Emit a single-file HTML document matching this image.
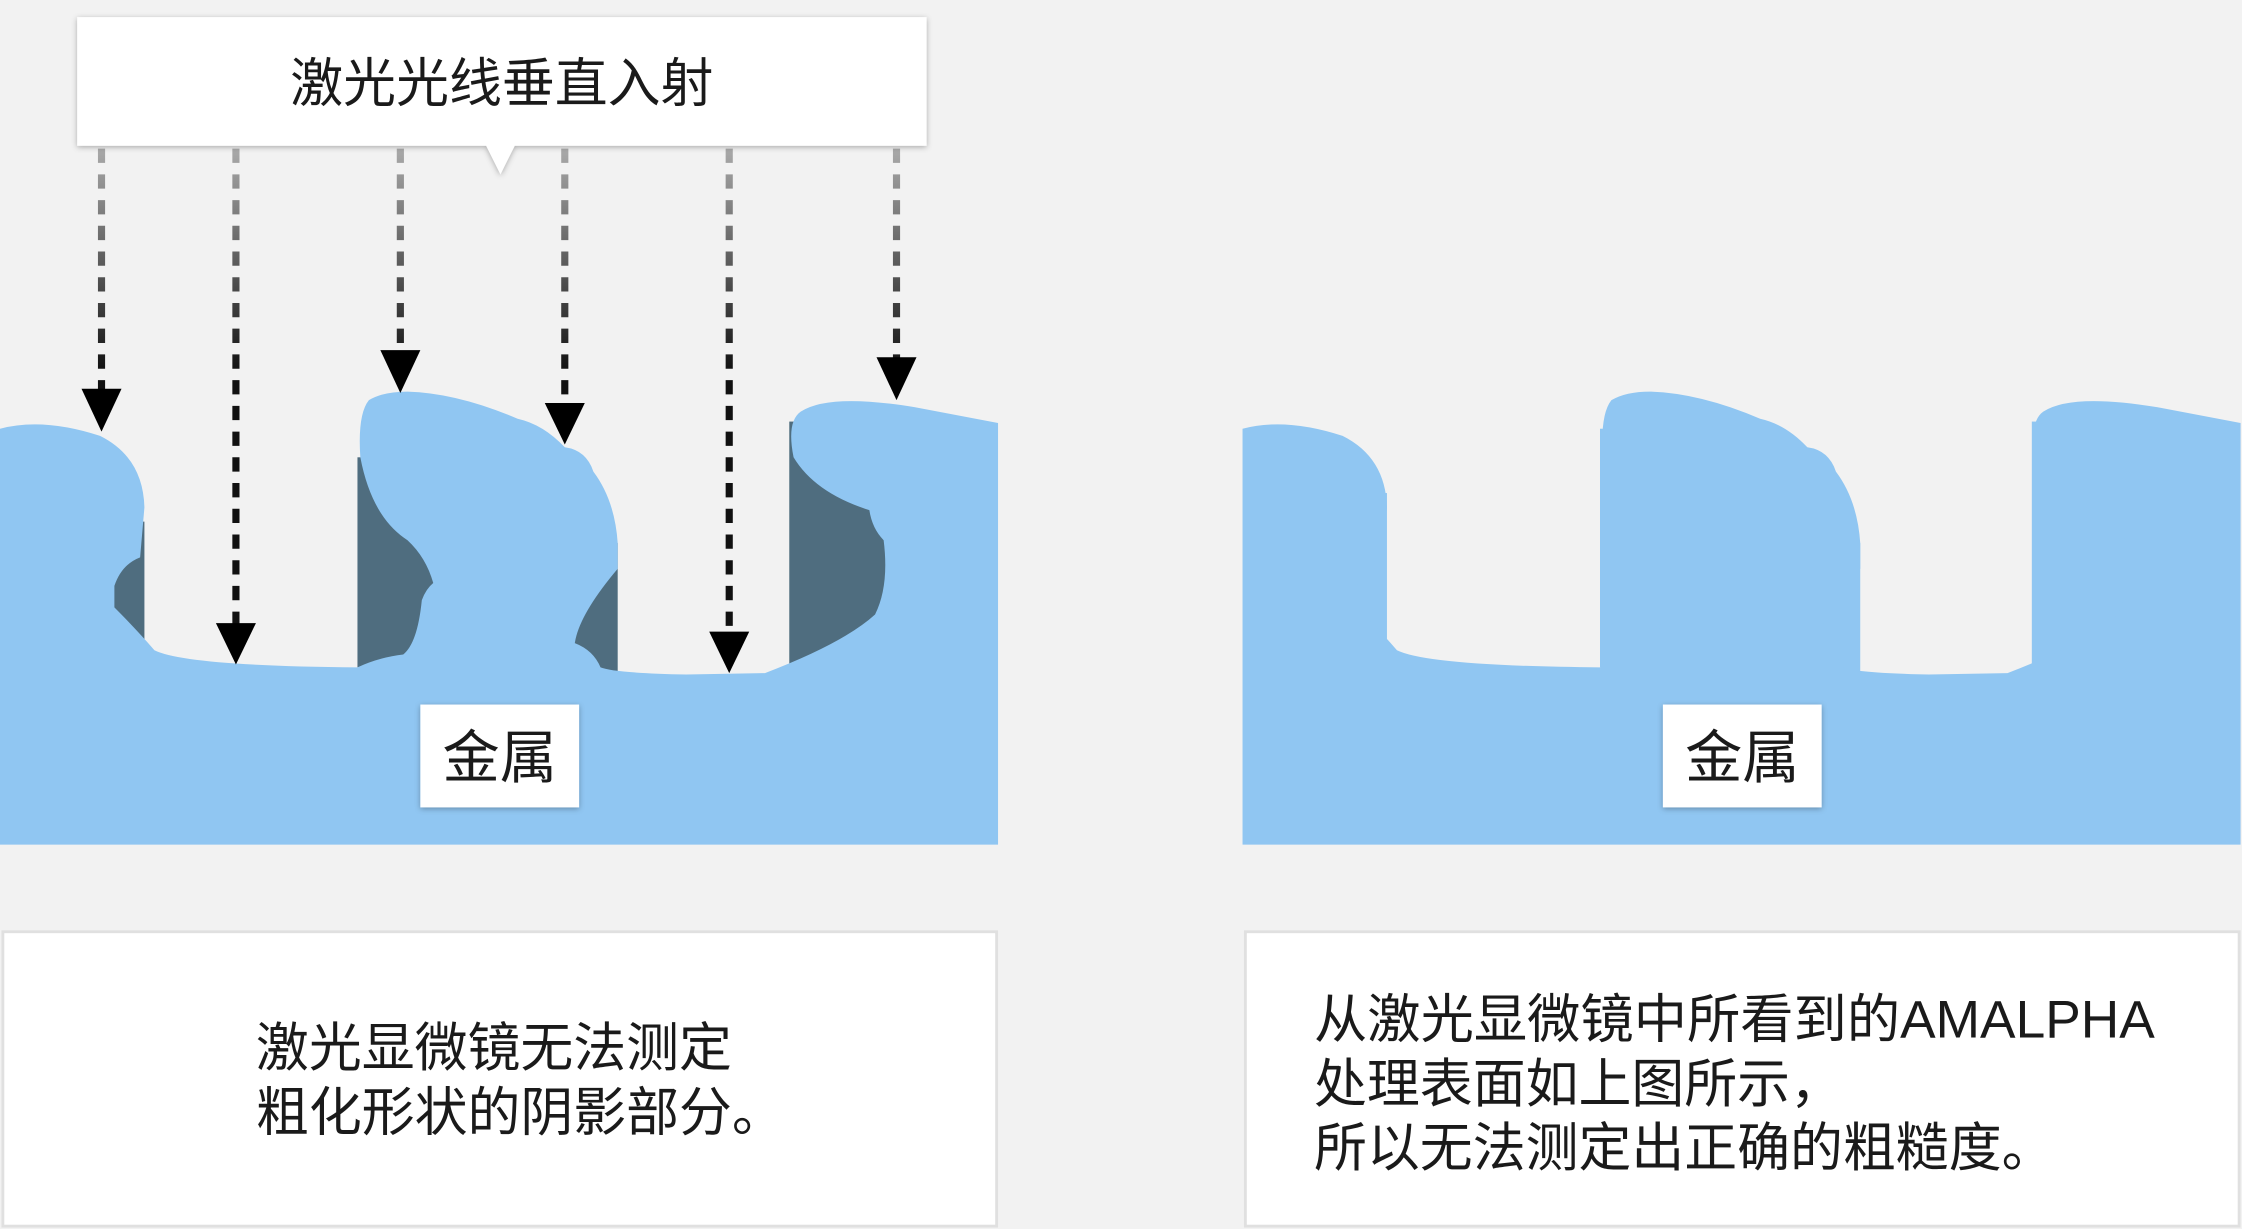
<!DOCTYPE html>
<html><head><meta charset="utf-8"><style>
html,body{margin:0;padding:0;background:#f2f2f2;width:2242px;height:1229px;overflow:hidden}
svg{display:block}
text{font-family:"Liberation Sans","Noto Sans CJK SC",sans-serif;fill:#1a1a1a}
</style></head><body>
<svg width="2242" height="1229" viewBox="0 0 1568 860" preserveAspectRatio="none">
<defs>
<linearGradient id="g" gradientUnits="userSpaceOnUse" x1="0" y1="104" x2="0" y2="260"><stop offset="0" stop-color="#aaa"/><stop offset="1" stop-color="#111"/></linearGradient>
<filter id="sh" x="-10%" y="-10%" width="120%" height="130%"><feDropShadow dx="0" dy="1" stdDeviation="2" flood-opacity="0.3"/></filter>
<path id="metal" d="M0,300 Q30,292 70,305 Q100,320 101,355 L98,390 Q85,395 80,410 L80,425 Q95,440 108,455 Q130,466 250,467 Q265,460 282,458 Q292,450 295,420 Q298,412 303,408 Q298,390 285,378 Q260,362 252,320 Q250,290 258,280 Q268,274 285,274 Q320,275 362,293 Q380,297 395,313 Q410,315 415,330 Q430,350 432,380 L432,398 Q405,430 402,450 Q415,455 420,467 Q430,471 480,472 L535,471 Q590,450 612,430 Q622,410 618,378 Q610,370 608,357 Q570,345 555,320 Q550,295 560,288 Q580,275 640,285 L698,296 L698,591 L0,591 Z"/>
</defs>
<g fill="#4f6d7f">
<rect x="78" y="365" width="23" height="85"/><rect x="250" y="320" width="55" height="147"/><rect x="400" y="380" width="32" height="90"/><rect x="552" y="295" width="68" height="170"/>
</g>
<use href="#metal" fill="#90c6f2"/>
<g transform="translate(869,0)" fill="#90c6f2">
<rect x="78" y="345" width="23" height="105"/><rect x="250" y="300" width="55" height="167"/><rect x="400" y="380" width="32" height="90"/><rect x="552" y="295" width="68" height="170"/>
<use href="#metal"/>
</g>
<g stroke="url(#g)" stroke-width="5" stroke-dasharray="10,8" fill="none">
<line x1="71" y1="104" x2="71" y2="280"/><line x1="165" y1="104" x2="165" y2="440"/><line x1="280" y1="104" x2="280" y2="252"/><line x1="395" y1="104" x2="395" y2="288"/><line x1="510" y1="104" x2="510" y2="448"/><line x1="627" y1="104" x2="627" y2="256"/>
</g>
<g fill="#000">
<polygon points="57,272 85,272 71,302"/><polygon points="151,436 179,436 165,465"/><polygon points="266,245 294,245 280,275"/><polygon points="381,282 409,282 395,311"/><polygon points="496,442 524,442 510,471"/><polygon points="613,250 641,250 627,280"/>
</g>
<g filter="url(#sh)" fill="#fff"><path d="M54,12 H648 V102 H360 L350,122 L340,102 H54 Z"/></g>
<text x="351" y="71" font-size="37" text-anchor="middle">激光光线垂直入射</text>
<rect x="294" y="493" width="111" height="72" fill="#fff" filter="url(#sh)"/>
<text x="349.5" y="544" font-size="40" text-anchor="middle">金属</text>
<rect x="1163" y="493" width="111" height="72" fill="#fff" filter="url(#sh)"/>
<text x="1218.5" y="544" font-size="40" text-anchor="middle">金属</text>
<rect x="2" y="652" width="695" height="206" fill="#fff" stroke="#e0e0e0" stroke-width="2"/>
<text x="179" y="746" font-size="37">激光显微镜无法测定</text>
<text x="179" y="791" font-size="37">粗化形状的阴影部分。</text>
<rect x="871" y="652" width="695" height="206" fill="#fff" stroke="#e0e0e0" stroke-width="2"/>
<text x="919" y="726" font-size="37" textLength="588" lengthAdjust="spacingAndGlyphs">从激光显微镜中所看到的AMALPHA</text>
<text x="919" y="771" font-size="37">处理表面如上图所示，</text>
<text x="919" y="816" font-size="37">所以无法测定出正确的粗糙度。</text>
</svg>
</body></html>
